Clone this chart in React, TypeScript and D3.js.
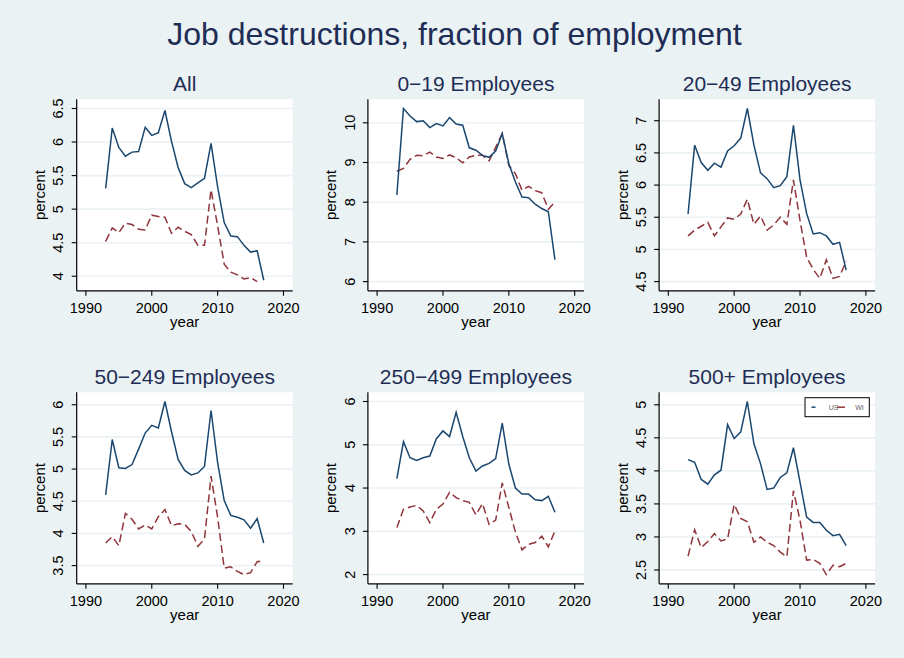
import React from "react";
import * as d3 from "d3";

// Years covered by every series
const years = [1993, 1994, 1995, 1996, 1997, 1998, 1999, 2000, 2001, 2002, 2003, 2004, 2005, 2006, 2007, 2008, 2009, 2010, 2011, 2012, 2013, 2014, 2015, 2016, 2017];

// Job destruction rate, percent of employment — US (solid) and WI (dashed)
const usAll = [5.31, 6.21, 5.92, 5.79, 5.85, 5.86, 6.22, 6.10, 6.14, 6.47, 6.01, 5.62, 5.38, 5.32, 5.39, 5.46, 5.98, 5.33, 4.80, 4.60, 4.59, 4.46, 4.36, 4.38, 3.94];
const wiAll = [4.52, 4.72, 4.65, 4.79, 4.77, 4.70, 4.69, 4.91, 4.89, 4.88, 4.64, 4.73, 4.67, 4.62, 4.46, 4.46, 5.29, 4.75, 4.18, 4.06, 4.02, 3.96, 3.98, 3.92, null];

const us0to19 = [8.18, 10.36, 10.17, 10.03, 10.05, 9.88, 9.98, 9.92, 10.13, 9.97, 9.94, 9.37, 9.31, 9.18, 9.13, 9.29, 9.73, 8.97, 8.51, 8.13, 8.11, 7.95, 7.84, 7.76, 6.55];
const wi0to19 = [8.78, 8.85, 9.08, 9.18, 9.17, 9.26, 9.14, 9.10, 9.19, 9.12, 8.99, 9.14, 9.18, 9.18, 9.04, 9.38, 9.73, 8.92, 8.72, 8.30, 8.40, 8.29, 8.24, 7.82, 8.01];

const us20to49 = [5.55, 6.62, 6.35, 6.23, 6.34, 6.28, 6.53, 6.61, 6.73, 7.19, 6.62, 6.19, 6.10, 5.96, 5.99, 6.13, 6.93, 6.08, 5.56, 5.24, 5.26, 5.21, 5.08, 5.11, 4.68];
const wi20to49 = [5.21, 5.30, 5.36, 5.42, 5.21, 5.35, 5.49, 5.47, 5.55, 5.78, 5.39, 5.52, 5.30, 5.38, 5.50, 5.39, 6.08, 5.45, 4.88, 4.69, 4.55, 4.84, 4.55, 4.58, 4.82];

const us50to249 = [4.60, 5.46, 5.02, 5.01, 5.07, 5.31, 5.56, 5.68, 5.64, 6.05, 5.58, 5.15, 4.98, 4.91, 4.94, 5.04, 5.91, 5.10, 4.51, 4.28, 4.25, 4.21, 4.08, 4.23, 3.85];
const wi50to249 = [3.85, 3.95, 3.81, 4.31, 4.22, 4.07, 4.13, 4.07, 4.26, 4.37, 4.12, 4.15, 4.14, 4.03, 3.80, 3.91, 4.89, 4.25, 3.46, 3.48, 3.41, 3.36, 3.39, 3.56, 3.58];

const us250to499 = [4.22, 5.07, 4.70, 4.64, 4.70, 4.74, 5.14, 5.32, 5.19, 5.75, 5.19, 4.70, 4.39, 4.51, 4.57, 4.68, 5.50, 4.55, 4.00, 3.86, 3.86, 3.73, 3.71, 3.81, 3.44];
const wi250to499 = [3.09, 3.51, 3.56, 3.60, 3.47, 3.20, 3.51, 3.63, 3.90, 3.78, 3.71, 3.67, 3.38, 3.64, 3.16, 3.26, 4.12, 3.55, 2.98, 2.57, 2.70, 2.74, 2.89, 2.64, 3.01];

const us500plus = [4.17, 4.13, 3.87, 3.80, 3.94, 4.01, 4.70, 4.49, 4.59, 5.05, 4.41, 4.11, 3.72, 3.74, 3.90, 3.97, 4.35, 3.83, 3.30, 3.22, 3.22, 3.10, 3.02, 3.04, 2.87];
const wi500plus = [2.71, 3.11, 2.84, 2.93, 3.05, 2.94, 2.97, 3.49, 3.28, 3.23, 2.92, 3.00, 2.92, 2.87, 2.77, 2.70, 3.70, 3.25, 2.65, 2.66, 2.60, 2.43, 2.57, 2.55, 2.60];

// Axis ticks
const xTicks = [1990, 2000, 2010, 2020];
const yTicksAll = [4, 4.5, 5, 5.5, 6, 6.5];
const yTicks0to19 = [6, 7, 8, 9, 10];
const yTicks20to49 = [4.5, 5, 5.5, 6, 6.5, 7];
const yTicks50to249 = [3.5, 4, 4.5, 5, 5.5, 6];
const yTicks250to499 = [2, 3, 4, 5, 6];
const yTicks500plus = [2.5, 3, 3.5, 4, 4.5, 5];

const panelTitles = ["All", "0\u221219 Employees", "20\u221249 Employees", "50\u2212249 Employees", "250\u2212499 Employees", "500+ Employees"];
const seriesNames = ["US", "WI"];
const chartTitle = "Job destructions, fraction of employment";

const panels = [
  { title: panelTitles[0], us: usAll, wi: wiAll, ticks: yTicksAll },
  { title: panelTitles[1], us: us0to19, wi: wi0to19, ticks: yTicks0to19 },
  { title: panelTitles[2], us: us20to49, wi: wi20to49, ticks: yTicks20to49 },
  { title: panelTitles[3], us: us50to249, wi: wi50to249, ticks: yTicks50to249 },
  { title: panelTitles[4], us: us250to499, wi: wi250to499, ticks: yTicks250to499 },
  { title: panelTitles[5], us: us500plus, wi: wi500plus, ticks: yTicks500plus },
];

const W = 904;
const H = 658;
const BG = "#EAF2F3";
const NAVY = "#1a476f";
const MAROON = "#90353b";
const TITLE_COLOR = "#1e2d55";
const FONT = "'Liberation Sans', Arial, Helvetica, sans-serif";

const plotW = 216;
const plotH = 191.5;
const colStep = 291.2;
const firstLeft = 76.7;
const rowTops = [99.3, 392.3];
const pad = 9.2;

type Panel = (typeof panels)[number];

function ChartPanel({ p, idx }: { p: Panel; idx: number }) {
  const col = idx % 3;
  const row = Math.floor(idx / 3);
  const left = firstLeft + col * colStep;
  const top = rowTops[row];
  const bottom = top + plotH;
  const right = left + plotW;

  const vals = [...p.us, ...p.wi].filter((v) => v != null) as number[];
  const lo = Math.min(d3.min(vals)!, d3.min(p.ticks)!);
  const hi = Math.max(d3.max(vals)!, d3.max(p.ticks)!);

  const x = d3.scaleLinear().domain([1990, 2020]).range([left + pad, right - pad]);
  const y = d3.scaleLinear().domain([lo, hi]).range([bottom - pad, top + pad]);

  const line = d3
    .line<number | null>()
    .defined((d) => d != null)
    .x((_, i) => x(years[i]))
    .y((d) => y(d as number));

  const cx = (left + right) / 2;
  const cy = (top + bottom) / 2;

  return (
    <g>
      <rect x={left} y={top} width={plotW} height={plotH} fill="#ffffff" />
      {p.ticks.map((t) => (
        <line key={"g" + t} x1={left} x2={right} y1={y(t)} y2={y(t)} stroke={BG} strokeWidth={1.6} />
      ))}
      <path d={line(p.wi) ?? ""} fill="none" stroke={MAROON} strokeWidth={1.5} strokeDasharray="8 4" />
      <path d={line(p.us) ?? ""} fill="none" stroke={NAVY} strokeWidth={1.5} />
      {/* axes */}
      <line x1={left} x2={left} y1={top} y2={bottom} stroke="#000" strokeWidth={1.2} />
      <line x1={left} x2={right} y1={bottom} y2={bottom} stroke="#000" strokeWidth={1.2} />
      {p.ticks.map((t) => (
        <g key={"y" + t}>
          <line x1={left - 5} x2={left} y1={y(t)} y2={y(t)} stroke="#000" strokeWidth={1.1} />
          <text
            transform={`translate(${left - 13.4},${y(t)}) rotate(-90)`}
            textAnchor="middle"
            fontSize={14.5}
            fontFamily={FONT}
            fill="#000"
          >
            {d3.format("~g")(t)}
          </text>
        </g>
      ))}
      {xTicks.map((t) => (
        <g key={"x" + t}>
          <line x1={x(t)} x2={x(t)} y1={bottom} y2={bottom + 5} stroke="#000" strokeWidth={1.1} />
          <text x={x(t)} y={bottom + 22.5} textAnchor="middle" fontSize={14.5} fontFamily={FONT} fill="#000">
            {t}
          </text>
        </g>
      ))}
      <text
        transform={`translate(${left - 31.5},${cy}) rotate(-90)`}
        textAnchor="middle"
        fontSize={15}
        fontFamily={FONT}
        fill="#000"
      >
        percent
      </text>
      <text x={cx} y={bottom + 36} textAnchor="middle" fontSize={15} fontFamily={FONT} fill="#000">
        year
      </text>
      <text x={cx} y={top - 8.5} textAnchor="middle" fontSize={21} fontFamily={FONT} fill={TITLE_COLOR}>
        {p.title}
      </text>
    </g>
  );
}

function Legend() {
  const bx = 805;
  const by = 397.7;
  const bw = 64.3;
  const bh = 19;
  const my = by + bh / 2;
  return (
    <g>
      <rect x={bx} y={by} width={bw} height={bh} fill="#ffffff" stroke="#000" strokeWidth={1} />
      <line x1={811.5} x2={815.5} y1={my} y2={my} stroke={NAVY} strokeWidth={1.5} />
      <text x={833.5} y={my + 2.5} textAnchor="middle" fontSize={7} fontFamily={FONT} fill="#666">
        {seriesNames[0]}
      </text>
      <line x1={837} x2={845} y1={my} y2={my} stroke={MAROON} strokeWidth={1.5} />
      <text x={859.5} y={my + 2.5} textAnchor="middle" fontSize={7} fontFamily={FONT} fill="#666">
        {seriesNames[1]}
      </text>
    </g>
  );
}

export default function App() {
  return (
    <svg
      width={W}
      height={H}
      viewBox={`0 0 ${W} ${H}`}
      style={{ position: "absolute", left: 0, top: 0, display: "block" }}
    >
      <rect x={0} y={0} width={W} height={H} fill={BG} />
      <text x={454.5} y={45} textAnchor="middle" fontSize={32} fontFamily={FONT} fill={TITLE_COLOR}>
        {chartTitle}
      </text>
      {panels.map((p, i) => (
        <ChartPanel key={p.title} p={p} idx={i} />
      ))}
      <Legend />
    </svg>
  );
}
